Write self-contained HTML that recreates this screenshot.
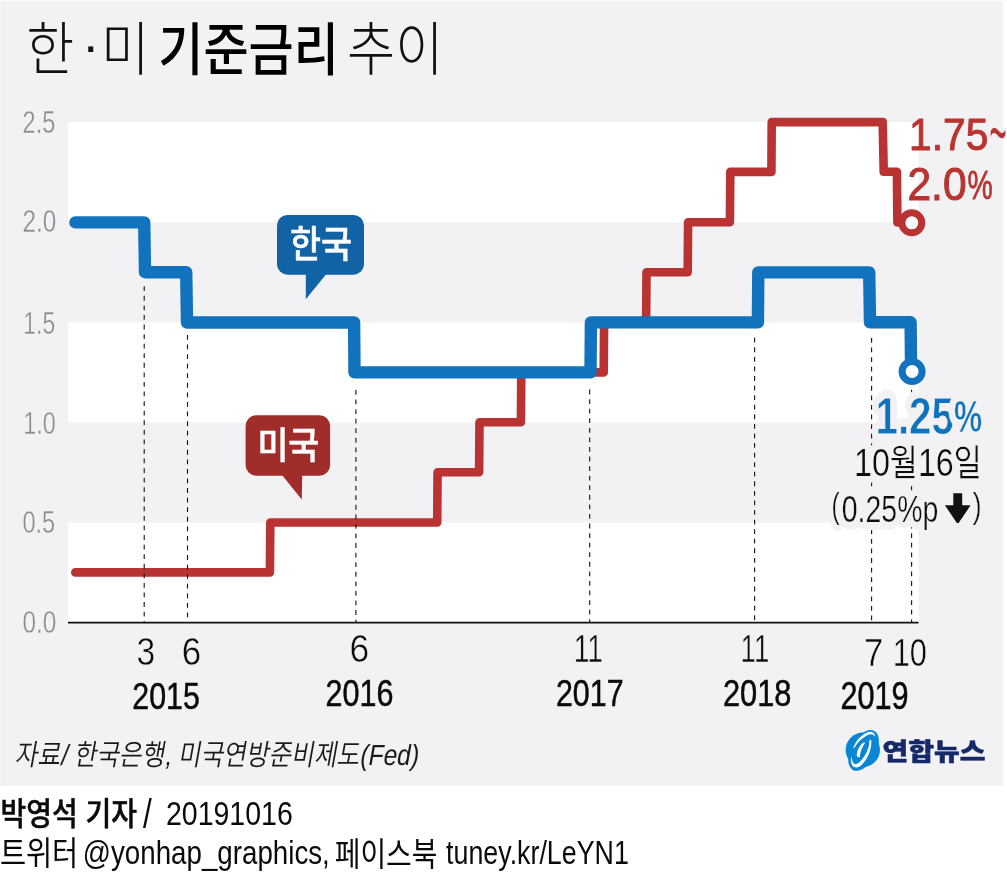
<!DOCTYPE html>
<html lang="ko"><head><meta charset="utf-8"><title>한·미 기준금리 추이</title>
<style>
html,body{margin:0;padding:0;background:#fff;}
body{width:1007px;height:888px;overflow:hidden;font-family:"Liberation Sans","Noto Sans CJK KR",sans-serif;}
svg{display:block}
svg text{font-family:"Liberation Sans","Noto Sans CJK KR",sans-serif;white-space:pre}
</style></head>
<body>
<svg width="1007" height="888" viewBox="0 0 1007 888" role="img" aria-label="한·미 기준금리 추이">
<defs><filter id="halo" x="-20%" y="-30%" width="140%" height="160%">
<feGaussianBlur in="SourceAlpha" stdDeviation="4.2" result="g"/>
<feComponentTransfer in="g" result="b"><feFuncA type="linear" slope="60" intercept="-0.8"/></feComponentTransfer>
<feFlood flood-color="#f2f2f4" result="c"/>
<feComposite in="c" in2="b" operator="in" result="h"/>
<feMerge><feMergeNode in="h"/><feMergeNode in="SourceGraphic"/></feMerge>
</filter></defs>
<rect x="0.3" y="0.7" width="1002.7" height="785" fill="#f2f2f4"/>
<rect x="68.3" y="122" width="850.2" height="100.3" fill="#fff"/><rect x="68.3" y="322.3" width="850.2" height="100.3" fill="#fff"/><rect x="68.3" y="522.6" width="850.2" height="99.5" fill="#fff"/>
<polyline points="75.3,572.4 269.9,572.4 270.3,522.5 437.2,522.5 437.6,472.3 479.1,472.3 479.5,422.2 520.9,422.2 521.3,372.4 603.7,372.4 604.1,322.4 646.1,322.4 646.5,272.2 687.7,272.2 688.1,222.2 729.9,222.2 730.3,171.9 771.4,171.9 771.7,122.1 882.7,122.1 883.7,171.7 896.9,171.7 897.4,222.5" fill="none" stroke="#b83331" stroke-width="8.6" stroke-linejoin="round" stroke-linecap="round"/>
<polyline points="75.4,222.4 144.2,222.4 145.0,272.2 186.2,272.2 187.0,322.5 354.1,322.5 354.5,372.4 590.5,372.4 590.9,322.4 757.9,322.4 758.3,272.4 869.2,272.4 870.0,322.3 910.6,322.3 911.0,360" fill="none" stroke="#1173bd" stroke-width="12.4" stroke-linejoin="round" stroke-linecap="round"/>
<line x1="68" y1="622.6" x2="918.5" y2="622.6" stroke="#111" stroke-width="1.9"/>
<g stroke="#111" stroke-width="1.1" stroke-dasharray="4.8 4.77"><line x1="144.2" y1="286.3" x2="144.2" y2="622"/><line x1="187.5" y1="335" x2="187.5" y2="622"/><line x1="355.9" y1="390" x2="355.9" y2="622"/><line x1="589.7" y1="389.6" x2="589.7" y2="622"/><line x1="754.6" y1="337.8" x2="754.6" y2="622"/><line x1="871.6" y1="338" x2="871.6" y2="622"/><line x1="911.6" y1="389.7" x2="911.6" y2="622"/></g>
<circle cx="911.8" cy="222.8" r="10" fill="#fff" stroke="#b83331" stroke-width="7"/>
<circle cx="912.1" cy="371.5" r="10" fill="#fff" stroke="#1173bd" stroke-width="7"/>
<g fill="#1163a6"><rect x="277" y="215" width="87" height="59.7" rx="10.5"/><polygon points="305.8,274 326.4,274 305.8,299.2"/></g>
<g fill="#a12d2b"><rect x="245.6" y="415.3" width="84.5" height="60.4" rx="10.5"/><polygon points="282,475 302.2,475 301.8,499.6"/></g>
<polygon points="953.3,493.2 962.2,493.2 962.2,505.3 970.6,505.3 958.6,523 956.9,523 944.9,505.3 953.3,505.3" fill="#111"/>
<g id="logo">
<circle cx="862.8" cy="749.8" r="17.2" fill="#0a87d4"/>
<ellipse cx="863.6" cy="750.4" rx="12.4" ry="22.3" transform="rotate(29 863.6 750.4)" fill="#0a87d4"/>
<g fill="#fff">
<path d="M853.3 748.4 C855 742 860 736 866.5 732.8 C871 730.6 874.6 732.4 875.3 736.8 C873 733.8 870.2 733.6 866.8 735.4 C861 738.6 856.6 743.4 853.9 748.6Z"/>
<path d="M851.2 756.2 C850.4 761.4 851.4 765.2 853.6 766.8 C856.6 768.8 860.4 766.8 863.6 762.8 C868.4 756.8 872 748 871.2 739.8 L869.4 740.2 C869.6 747 866.4 754.2 862 759.6 C858.8 763.4 855.8 765.2 853.8 763.4 C852.4 762 851.8 759.4 851.2 756.2Z"/>
<path d="M856.8 756 C856.8 750.6 859.4 745.6 863.4 742.6 L865.2 742.8 C861.8 747.4 860.2 752 859.8 757.2 C858.6 757.4 857.4 757 856.8 756Z"/>
</g>
</g>
<text transform="translate(26.13 70.42) scale(0.8948 1)" font-size="58.19" font-weight="300" fill="#111">한</text>
<text transform="translate(81.96 62.73) scale(1.0302 1)" font-size="51.05" font-weight="400" fill="#111">·</text>
<text transform="translate(100.90 70.24) scale(0.9117 1)" font-size="57.80" font-weight="300" fill="#111">미</text>
<text transform="translate(158.24 70.01) scale(0.8651 1)" font-size="56.74" font-weight="500" fill="#000">기준금리</text>
<text transform="translate(347.12 70.15) scale(0.9025 1)" font-size="58.00" font-weight="300" fill="#111">추이</text>
<text transform="translate(22.57 132.76) scale(0.7501 1)" font-size="31.34" font-weight="400" fill="#8a8d90" stroke="#f2f2f4" stroke-width="0.35" stroke-linejoin="round">2.5</text>
<text transform="translate(22.53 232.36) scale(0.7753 1)" font-size="31.34" font-weight="400" fill="#8a8d90" stroke="#f2f2f4" stroke-width="0.35" stroke-linejoin="round">2.0</text>
<text transform="translate(23.31 333.56) scale(0.7302 1)" font-size="31.34" font-weight="400" fill="#8a8d90" stroke="#f2f2f4" stroke-width="0.35" stroke-linejoin="round">1.5</text>
<text transform="translate(23.27 433.76) scale(0.7460 1)" font-size="31.34" font-weight="400" fill="#8a8d90" stroke="#f2f2f4" stroke-width="0.35" stroke-linejoin="round">1.0</text>
<text transform="translate(22.43 533.16) scale(0.7533 1)" font-size="31.34" font-weight="400" fill="#8a8d90" stroke="#f2f2f4" stroke-width="0.35" stroke-linejoin="round">0.5</text>
<text transform="translate(22.40 633.16) scale(0.7783 1)" font-size="31.34" font-weight="400" fill="#8a8d90" stroke="#f2f2f4" stroke-width="0.35" stroke-linejoin="round">0.0</text>
<text transform="translate(136.47 665.46) scale(0.8662 1)" font-size="38.87" font-weight="400" fill="#0a0a0a" stroke="#f2f2f4" stroke-width="0.5" stroke-linejoin="round">3</text>
<text transform="translate(181.81 665.46) scale(0.8993 1)" font-size="38.87" font-weight="400" fill="#0a0a0a" stroke="#f2f2f4" stroke-width="0.5" stroke-linejoin="round">6</text>
<text transform="translate(132.28 709.17) scale(0.8066 1)" font-size="37.61" font-weight="400" fill="#0a0a0a" stroke="#0a0a0a" stroke-width="0.5" stroke-linejoin="round">2015</text>
<text transform="translate(349.49 661.97) scale(0.9273 1)" font-size="38.17" font-weight="400" fill="#0a0a0a" stroke="#f2f2f4" stroke-width="0.5" stroke-linejoin="round">6</text>
<text transform="translate(325.47 706.07) scale(0.8093 1)" font-size="37.75" font-weight="400" fill="#0a0a0a" stroke="#0a0a0a" stroke-width="0.5" stroke-linejoin="round">2016</text>
<text transform="translate(573.63 661.97) scale(0.7432 1)" font-size="38.03" font-weight="400" fill="#0a0a0a" stroke="#f2f2f4" stroke-width="0.5" stroke-linejoin="round">11</text>
<text transform="translate(555.98 706.07) scale(0.8042 1)" font-size="37.75" font-weight="400" fill="#0a0a0a" stroke="#0a0a0a" stroke-width="0.5" stroke-linejoin="round">2017</text>
<text transform="translate(740.58 661.97) scale(0.7260 1)" font-size="38.03" font-weight="400" fill="#0a0a0a" stroke="#f2f2f4" stroke-width="0.5" stroke-linejoin="round">11</text>
<text transform="translate(722.96 706.07) scale(0.8153 1)" font-size="37.75" font-weight="400" fill="#0a0a0a" stroke="#0a0a0a" stroke-width="0.5" stroke-linejoin="round">2018</text>
<text transform="translate(864.00 666.27) scale(0.9152 1)" font-size="38.03" font-weight="400" fill="#0a0a0a" stroke="#f2f2f4" stroke-width="0.5" stroke-linejoin="round">7</text>
<text transform="translate(892.65 666.27) scale(0.8077 1)" font-size="38.03" font-weight="400" fill="#0a0a0a" stroke="#f2f2f4" stroke-width="0.5" stroke-linejoin="round">10</text>
<text transform="translate(840.47 709.17) scale(0.8088 1)" font-size="37.89" font-weight="400" fill="#0a0a0a" stroke="#0a0a0a" stroke-width="0.5" stroke-linejoin="round">2019</text>
<text transform="translate(909.12 149.76) scale(0.9171 1)" font-size="44.37" font-weight="400" fill="#b93431" stroke="#b93431" stroke-width="1.0" stroke-linejoin="round">1.75</text>
<text transform="translate(988.97 165.80) scale(0.3151 1)" font-size="97.60" font-weight="400" fill="#b93431" stroke="#f2f2f4" stroke-width="1.3" stroke-linejoin="round">~</text>
<text transform="translate(907.48 200.34) scale(0.9199 1)" font-size="46.20" font-weight="400" fill="#b93431" stroke="#b93431" stroke-width="1.0" stroke-linejoin="round">2.0</text>
<text transform="translate(967.62 199.40) scale(0.7153 1)" font-size="39.72" font-weight="400" fill="#b93431" stroke="#b93431" stroke-width="0.8" stroke-linejoin="round">%</text>
<text transform="translate(875.42 433.89) scale(0.7883 1)" font-size="51.27" font-weight="700" fill="#1173bd" stroke="#f2f2f4" stroke-width="0.8" stroke-linejoin="round" filter="url(#halo)">1.25</text>
<text transform="translate(953.96 432.47) scale(0.7158 1)" font-size="44.21" font-weight="700" fill="#1173bd" stroke="#f2f2f4" stroke-width="0.6" stroke-linejoin="round" filter="url(#halo)">%</text>
<text transform="translate(853.93 475.84) scale(0.8327 1)" font-size="36.61" font-weight="400" fill="#0a0a0a" filter="url(#halo)"><tspan font-size="106%">10</tspan>월<tspan font-size="106%">16</tspan>일</text>
<text transform="translate(831.41 518.26) scale(0.6912 1)" font-size="34.97" font-weight="400" fill="#0a0a0a" stroke="#f2f2f4" stroke-width="0.2" stroke-linejoin="round" filter="url(#halo)">(</text>
<text transform="translate(841.80 522.33) scale(0.7769 1)" font-size="36.62" font-weight="400" fill="#0a0a0a" stroke="#f2f2f4" stroke-width="0.2" stroke-linejoin="round" filter="url(#halo)">0.25%p</text>
<text transform="translate(972.71 518.26) scale(0.7575 1)" font-size="34.97" font-weight="400" fill="#0a0a0a" stroke="#f2f2f4" stroke-width="0.2" stroke-linejoin="round" filter="url(#halo)">)</text>
<text transform="translate(290.02 258.28) scale(0.9057 1)" font-size="37.28" font-weight="500" fill="#fff" stroke="#fff" stroke-width="0.5" stroke-linejoin="round">한국</text>
<text transform="translate(257.41 459.25) scale(0.9066 1)" font-size="37.12" font-weight="500" fill="#fff" stroke="#fff" stroke-width="0.5" stroke-linejoin="round">미국</text>
<text transform="translate(14.59 765.00) scale(0.8449 1) skewX(-12)" font-size="29.14" font-weight="350" fill="#1a1a1a">자료/ 한국은행, 미국연방준비제도(Fed)</text>
<text transform="translate(882.55 759.57) scale(1.1451 1)" font-size="24.42" font-weight="900" fill="#15296a" stroke="#15296a" stroke-width="0.5" stroke-linejoin="round">연합뉴스</text>
<text transform="translate(0.42 825.18) scale(0.8905 1)" font-size="31.46" font-weight="500" fill="#0a0a0a" stroke="#0a0a0a" stroke-width="0.5" stroke-linejoin="round">박영석 기자</text>
<text transform="translate(142.95 827.60) scale(0.7916 1)" font-size="39.87" font-weight="400" fill="#0a0a0a">/</text>
<text transform="translate(165.96 825.47) scale(0.8611 1)" font-size="33.10" font-weight="400" fill="#0a0a0a">20191016</text>
<text transform="translate(-0.12 865.24) scale(0.8674 1)" font-size="32.75" font-weight="400" fill="#0a0a0a">트위터</text>
<text transform="translate(82.82 863.52) scale(0.8267 1)" font-size="33.54" font-weight="400" fill="#0a0a0a">@yonhap_graphics,</text>
<text transform="translate(334.77 865.63) scale(0.8494 1)" font-size="32.86" font-weight="400" fill="#0a0a0a">페이스북</text>
<text transform="translate(446.09 863.60) scale(0.7934 1)" font-size="33.79" font-weight="400" fill="#0a0a0a">tuney.kr/LeYN1</text>
</svg>
</body></html>
